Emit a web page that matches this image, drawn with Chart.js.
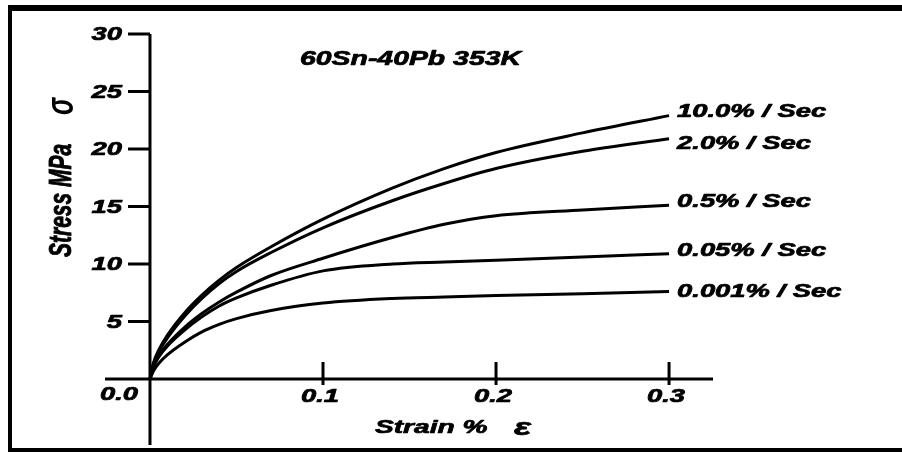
<!DOCTYPE html>
<html>
<head>
<meta charset="utf-8">
<title>60Sn-40Pb 353K</title>
<script src="https://cdn.jsdelivr.net/npm/chart.js@4.4.0/dist/chart.umd.min.js"></script>
<style>
  html, body { margin: 0; padding: 0; background: #fff; }
  canvas { display: block; }
</style>
</head>
<body>
<canvas id="stress-chart" width="902" height="452"></canvas>
<script>
// strain (%) sample points shared by all curves
const strain = [0, 0.002, 0.005, 0.01, 0.02, 0.03, 0.04, 0.05, 0.07, 0.1, 0.14, 0.17, 0.2, 0.25, 0.3];

// stress (MPa)
const rate10 = [0, 1.4, 2.5, 3.8, 5.75, 7.3, 8.6, 9.7, 11.5, 13.9, 16.6, 18.3, 19.7, 21.4, 22.9];
const rate2 = [0, 1.3, 2.35, 3.55, 5.45, 7.0, 8.3, 9.35, 11.0, 13.15, 15.5, 17.0, 18.3, 19.8, 20.9];
const rate05 = [0, 1.1, 2.0, 3.0, 4.5, 5.7, 6.7, 7.55, 9.0, 10.5, 12.3, 13.45, 14.2, 14.7, 15.1];
const rate005 = [0, 1.05, 1.9, 2.85, 4.25, 5.4, 6.35, 7.05, 8.15, 9.4, 10.0, 10.18, 10.33, 10.6, 10.9];
const rate0001 = [0, 0.7, 1.35, 2.1, 3.2, 4.1, 4.75, 5.25, 5.95, 6.6, 7.0, 7.13, 7.25, 7.42, 7.6];

const rateLabels = ['10.0% / Sec', '2.0% / Sec', '0.5% / Sec', '0.05% / Sec', '0.001% / Sec'];
const xTicks = [0.1, 0.2, 0.3];
const yTicks = [5, 10, 15, 20, 25, 30];

const series = [rate10, rate2, rate05, rate005, rate0001];

// the original picture is stretched sideways, so text gets a horizontal scale too
const STRETCH = 1.48;
const FONT = '"Liberation Sans", Arial, sans-serif';

function stretchedText(ctx, text, x, y, size, align, sx) {
  ctx.save();
  ctx.translate(x, y);
  ctx.scale(sx || STRETCH, 1);
  ctx.font = 'italic bold ' + size + 'px ' + FONT;
  ctx.textAlign = align;
  ctx.textBaseline = 'middle';
  ctx.lineWidth = 0.7;
  ctx.lineJoin = 'round';
  ctx.strokeText(text, 0, 0);
  ctx.fillText(text, 0, 0);
  ctx.restore();
}

const axesPlugin = {
  id: 'axesPlugin',
  beforeDraw(chart) {
    const ctx = chart.ctx;
    ctx.save();
    ctx.fillStyle = '#fff';
    ctx.fillRect(0, 0, chart.width, chart.height);
    ctx.restore();
  },
  afterDraw(chart) {
    const ctx = chart.ctx;
    const xs = chart.scales.x;
    const ys = chart.scales.y;
    const area = chart.chartArea;
    const x0 = xs.getPixelForValue(0);
    const y0 = ys.getPixelForValue(0);

    ctx.save();
    ctx.fillStyle = '#000';
    ctx.strokeStyle = '#000';

    // frame
    ctx.fillRect(8, 5, chart.width, 6);
    ctx.fillRect(8, 5, 4, chart.height);
    ctx.fillRect(8, 448, chart.width, 4);

    // axis lines
    ctx.lineWidth = 3;
    ctx.beginPath();
    ctx.moveTo(x0, ys.getPixelForValue(30));
    ctx.lineTo(x0, area.bottom);
    ctx.moveTo(area.left, y0);
    ctx.lineTo(area.right, y0);
    ctx.stroke();

    // y ticks + labels
    for (const v of yTicks) {
      const py = ys.getPixelForValue(v);
      ctx.lineWidth = 3;
      ctx.beginPath();
      ctx.moveTo(x0 - 22, py);
      ctx.lineTo(x0, py);
      ctx.stroke();
      stretchedText(ctx, String(v), x0 - 28, py + 1, 18.5, 'right');
    }

    // x ticks + labels
    for (const v of xTicks) {
      const px = xs.getPixelForValue(v);
      ctx.lineWidth = 3;
      ctx.beginPath();
      ctx.moveTo(px, y0 - 17);
      ctx.lineTo(px, y0 + 6);
      ctx.stroke();
      stretchedText(ctx, v.toFixed(1), px - 3, y0 + 18, 18.5, 'center');
    }
    stretchedText(ctx, '0.0', x0 - 31, y0 + 16, 18.5, 'center');

    // title
    stretchedText(ctx, '60Sn-40Pb 353K', 300, 59, 20, 'left', 1.42);

    // x axis title
    stretchedText(ctx, 'Strain %', 375, 428, 19, 'left');
    stretchedText(ctx, '\u03b5', 514, 428, 24, 'left');

    // y axis title, rotated
    ctx.save();
    ctx.translate(62, 257);
    ctx.scale(STRETCH, 1);
    ctx.rotate(-Math.PI / 2);
    ctx.font = 'italic bold 21px ' + FONT;
    ctx.textAlign = 'left';
    ctx.textBaseline = 'middle';
    ctx.lineWidth = 0.6;
    ctx.strokeText('Stress MPa', 0, 0);
    ctx.fillText('Stress MPa', 0, 0);
    ctx.font = 'italic bold 26px ' + FONT;
    ctx.fillText('\u03c3', 142, 0);
    ctx.restore();

    // curve labels at the right end of each curve
    const nudge = [-4, 5, -3, -3, 0];
    series.forEach((vals, i) => {
      const last = vals.length - 1;
      const px = xs.getPixelForValue(strain[last]) + 8;
      const py = ys.getPixelForValue(vals[last]) + nudge[i];
      stretchedText(ctx, rateLabels[i], px, py, 18.5, 'left');
    });

    ctx.restore();
  }
};

const datasets = series.map((vals, i) => ({
  label: rateLabels[i],
  data: strain.map((s, j) => ({ x: s, y: vals[j] })),
  borderColor: '#000',
  borderWidth: 3,
  pointRadius: 0,
  fill: false,
  cubicInterpolationMode: 'monotone'
}));

new Chart(document.getElementById('stress-chart'), {
  type: 'line',
  data: { datasets: datasets },
  options: {
    responsive: false,
    animation: false,
    layout: { padding: { left: 105, right: 189, top: 34, bottom: 7 } },
    scales: {
      x: { type: 'linear', min: -0.026, max: 0.3254, display: false },
      y: { type: 'linear', min: -5.74, max: 30, display: false }
    },
    plugins: {
      legend: { display: false },
      tooltip: { enabled: false }
    }
  },
  plugins: [axesPlugin]
});
</script>
</body>
</html>
